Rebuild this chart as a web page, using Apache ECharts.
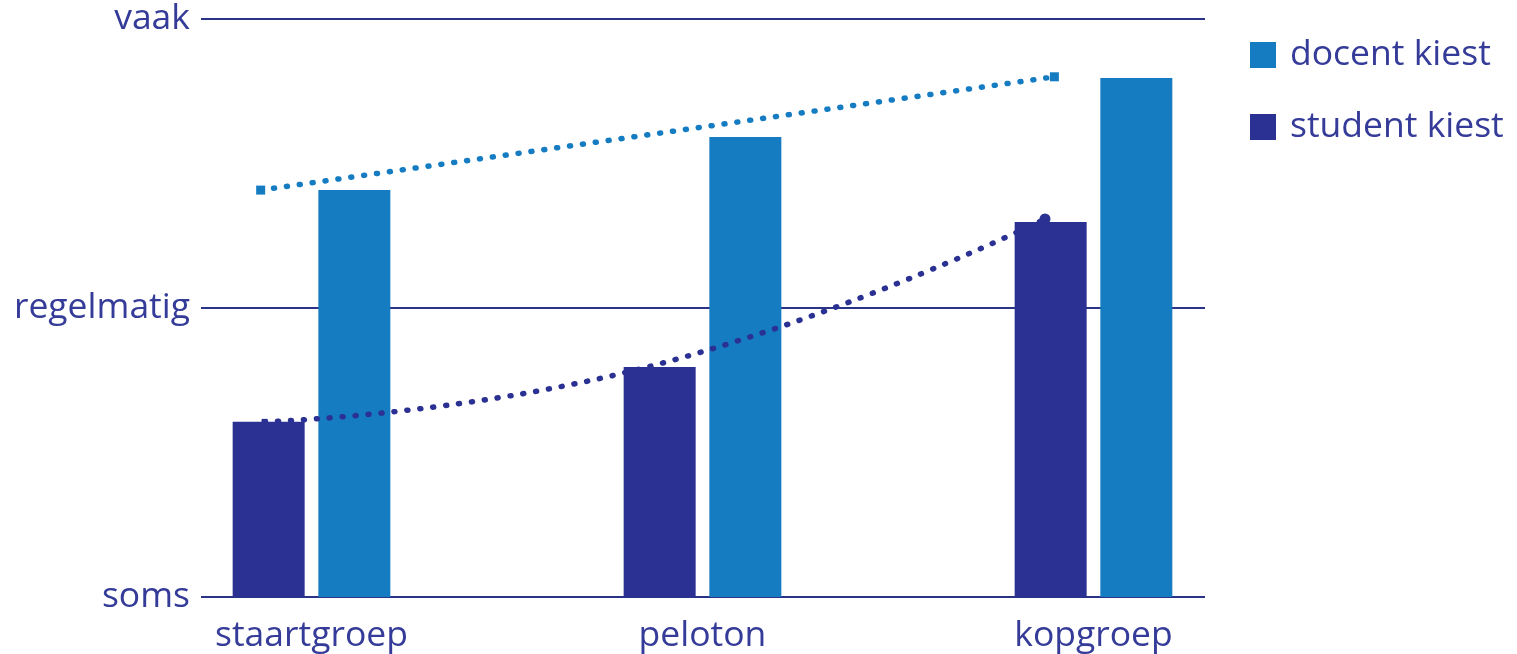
<!DOCTYPE html>
<html><head><meta charset="utf-8">
<script src="https://cdn.jsdelivr.net/npm/echarts@6/dist/echarts.min.js"></script>
<style>html,body{margin:0;padding:0;background:#fff}#c{width:1517px;height:654px}</style>
</head><body><div id="c"></div>
<script>
const categories = ['staartgroep', 'peloton', 'kopgroep'];
const yLabels = ['soms', 'regelmatig', 'vaak'];
const studentValues = [0.606, 0.796, 1.298];
const docentValues = [1.408, 1.592, 1.796];
// trend lines: [x position on category index scale, value]
const docentTrend = [[-0.13, 1.408], [1.9, 1.80]];
const studentTrend = [[-0.12, 0.606], [0.86, 0.796], [1.876, 1.308]];

const dark = '#2b3192';
const light = '#167cc2';
const txt = '#353b98';
const font = 'Open Sans';
const fs = 35.5;

const chart = echarts.init(document.getElementById('c'));
chart.setOption({
  animation: false,
  textStyle: { fontFamily: font },
  grid: [
    { left: 201, right: 312, top: 19, bottom: 57 },
    { left: 116, right: 228, top: 19, bottom: 57 }
  ],
  legend: {
    orient: 'vertical', left: 1250, top: 37, padding: 0,
    itemWidth: 26, itemHeight: 26, itemGap: 36,
    icon: 'rect',
    data: ['docent kiest', 'student kiest'],
    textStyle: { fontFamily: font, fontSize: fs, color: txt, padding: [0, 0, 0, 9] }
  },
  xAxis: [
    { gridIndex: 0, type: 'value', min: 0, max: 1, show: false },
    { gridIndex: 1, type: 'category', data: categories,
      axisLine: { show: false }, axisTick: { show: false },
      axisLabel: { fontFamily: font, fontSize: fs, color: txt, margin: 21 } },
    { gridIndex: 1, type: 'value', min: -0.5, max: 2.5, show: false }
  ],
  yAxis: [
    { gridIndex: 0, type: 'value', min: 0, max: 2, interval: 1,
      axisLine: { show: false }, axisTick: { show: false },
      splitLine: { lineStyle: { color: '#2a3486', width: 2 } },
      axisLabel: { fontFamily: font, fontSize: fs, color: txt, margin: 11,
        formatter: v => yLabels[v] } },
    { gridIndex: 1, type: 'value', min: 0, max: 2, show: false }
  ],
  series: [
    { name: 'student kiest', type: 'bar', xAxisIndex: 1, yAxisIndex: 1,
      data: studentValues, barWidth: 72, barGap: '19%', itemStyle: { color: dark } },
    { name: 'docent kiest', type: 'bar', xAxisIndex: 1, yAxisIndex: 1,
      data: docentValues, barWidth: 72, itemStyle: { color: light } },
    { name: 'docent trend', type: 'line', xAxisIndex: 2, yAxisIndex: 1,
      data: docentTrend.map(p => ({ value: p })),
      symbol: 'rect', symbolSize: 9, itemStyle: { color: light },
      lineStyle: { color: light, width: 5.5, type: [1, 12], cap: 'round' }, z: 5 },
    { name: 'student trend', type: 'line', xAxisIndex: 2, yAxisIndex: 1, smooth: true,
      data: studentTrend.map((p, i) => ({ value: p, symbol: i === 2 ? 'circle' : (i === 0 ? 'rect' : 'none') , symbolSize: i === 2 ? 11 : 6 })),
      itemStyle: { color: dark },
      lineStyle: { color: dark, width: 5.5, type: [1, 12], cap: 'round' }, z: 5 }
  ]
});
</script></body></html>
